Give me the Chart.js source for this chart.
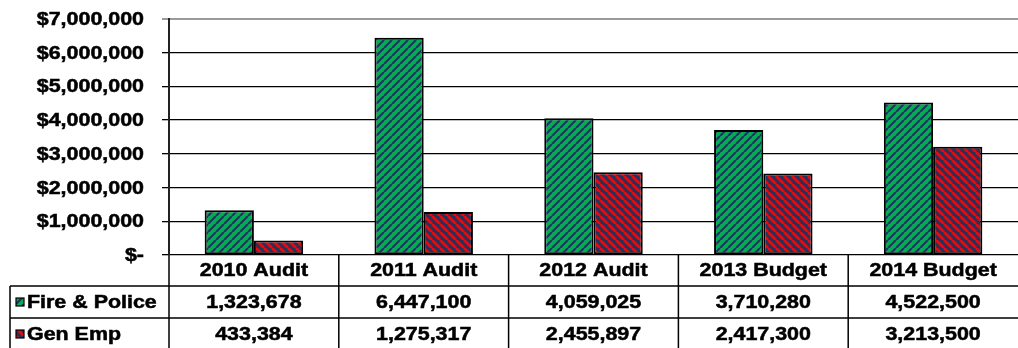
<!DOCTYPE html>
<html>
<head>
<meta charset="utf-8">
<script src="https://cdn.jsdelivr.net/npm/chart.js@4"></script>
<style>
  html, body { margin: 0; padding: 0; background: #fff; }
  #wrap { width: 1018px; height: 348px; }
</style>
</head>
<body>
<div id="wrap"><canvas id="myChart" width="1018" height="348"></canvas></div>
<script>
var categories = ["2010 Audit", "2011 Audit", "2012 Audit", "2013 Budget", "2014 Budget"];
var firePolice = [1323678, 6447100, 4059025, 3710280, 4522500];
var genEmp = [433384, 1275317, 2455897, 2417300, 3213500];
var seriesNames = ["Fire & Police", "Gen Emp"];
var yTicks = [0, 1000000, 2000000, 3000000, 4000000, 5000000, 6000000, 7000000];

var FONT = 'bold 18px "Liberation Sans", Arial, sans-serif';
var STRETCH = 1.19;
var NAVY = "#1f3560";

var canvas = document.getElementById("myChart");
var ctx = canvas.getContext("2d");

function hatch(bg, fg, dir, size, lw) {
    var c = document.createElement("canvas");
    c.width = size;
    c.height = size;
    var x = c.getContext("2d");
    x.fillStyle = bg;
    x.fillRect(0, 0, size, size);
    x.strokeStyle = fg;
    x.lineWidth = lw;
    x.beginPath();
    for (var k = -1; k <= 1; k++) {
        if (dir === "/") {
            x.moveTo(k * size, size);
            x.lineTo(k * size + size, 0);
        } else {
            x.moveTo(k * size, 0);
            x.lineTo(k * size + size, size);
        }
    }
    x.stroke();
    return ctx.createPattern(c, "repeat");
}

var greenHatch = hatch("#00b050", NAVY, "/", 8, 2.2);
var redHatch = hatch(NAVY, "#ff0000", "\\", 8, 2.8);

function money(v) {
    if (v === 0) return "$-";
    return "$" + v.toLocaleString("en-US");
}

function stretchedText(c, str, x, y, align) {
    c.save();
    c.translate(x, y);
    c.scale(STRETCH, 1);
    c.textAlign = align;
    c.textBaseline = "middle";
    c.lineWidth = 0.5;
    c.strokeStyle = "#000";
    c.fillText(str, 0, 0);
    c.strokeText(str, 0, 0);
    c.restore();
}

var tablePlugin = {
    id: "dataTable",
    afterDraw: function(chart) {
        var c = chart.ctx;
        var area = chart.chartArea;
        var xs = chart.scales.x;
        var ys = chart.scales.y;
        var colW = (area.right - area.left) / categories.length;
        var rowTop = area.bottom;
        var row1 = rowTop + 31;
        var row2 = row1 + 32;
        var bottom = chart.height;

        c.save();
        c.fillStyle = "#000";
        c.font = FONT;

        // y tick labels
        yTicks.forEach(function(v) {
            stretchedText(c, money(v), 144, ys.getPixelForValue(v) + 1, "right");
        });

        // table grid
        c.strokeStyle = "#000";
        c.lineWidth = 1.5;
        c.beginPath();
        c.moveTo(10, row1); c.lineTo(chart.width, row1);
        c.moveTo(10, row2); c.lineTo(chart.width, row2);
        c.moveTo(10, row1); c.lineTo(10, bottom);
        for (var i = 0; i < categories.length; i++) {
            var bx = area.left + i * colW;
            c.moveTo(bx, rowTop); c.lineTo(bx, bottom);
        }
        c.stroke();

        // category and value cells
        categories.forEach(function(cat, i) {
            var cx = xs.getPixelForValue(i);
            stretchedText(c, cat, cx, (rowTop + row1) / 2 + 1, "center");
            stretchedText(c, firePolice[i].toLocaleString("en-US"), cx, (row1 + row2) / 2 + 1, "center");
            stretchedText(c, genEmp[i].toLocaleString("en-US"), cx, (row2 + bottom) / 2 + 2, "center");
        });

        // legend keys
        var keys = [greenHatch, redHatch];
        var mids = [(row1 + row2) / 2, (row2 + bottom) / 2 + 1];
        seriesNames.forEach(function(name, i) {
            c.fillStyle = keys[i];
            c.fillRect(16, mids[i] - 4, 8, 8);
            c.strokeStyle = "#000";
            c.lineWidth = 1.2;
            c.strokeRect(16, mids[i] - 4, 8, 8);
            c.fillStyle = "#000";
            stretchedText(c, name, 27, mids[i] + 1, "left");
        });
        c.restore();
    }
};

var config = {
    type: "bar",
    data: {
        labels: categories,
        datasets: [{
            label: seriesNames[0],
            data: firePolice,
            backgroundColor: greenHatch,
            borderColor: "#000",
            borderWidth: 2,
            borderSkipped: false
        }, {
            label: seriesNames[1],
            data: genEmp,
            backgroundColor: redHatch,
            borderColor: "#000",
            borderWidth: 2,
            borderSkipped: false
        }]
    },
    options: {
        responsive: false,
        animation: false,
        events: [],
        layout: {
            padding: { top: 19, bottom: 93, left: 0, right: -4 }
        },
        datasets: {
            bar: { categoryPercentage: 0.58, barPercentage: 1 }
        },
        plugins: {
            legend: { display: false },
            tooltip: { enabled: false }
        },
        scales: {
            x: {
                display: false
            },
            y: {
                min: 0,
                max: 7000000,
                afterFit: function(scale) { scale.width = 169; },
                ticks: { display: false, stepSize: 1000000 },
                grid: {
                    color: function(c) {
                        return c.tick && c.tick.value === 7000000 ? "#9a9a9a" : "#000";
                    },
                    lineWidth: function(c) {
                        return c.tick && c.tick.value === 7000000 ? 2 : 1.3;
                    },
                    tickLength: 7,
                    drawTicks: true
                },
                border: { display: true, color: "#222", width: 2 }
            }
        }
    },
    plugins: [tablePlugin]
};

new Chart(ctx, config);
</script>
</body>
</html>
